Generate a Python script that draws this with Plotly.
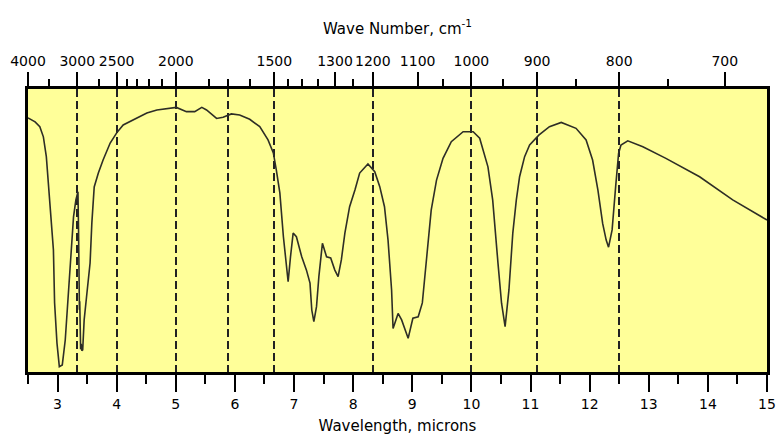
import plotly.graph_objects as go

# ---- data ----
wavelength_um = [2.50, 2.62, 2.70, 2.76, 2.81, 2.845, 2.89, 2.93, 2.95, 2.99, 3.03, 3.08, 3.13, 3.17,
                 3.20, 3.24, 3.27, 3.31, 3.345, 3.355, 3.36, 3.37, 3.375, 3.38, 3.385, 3.39, 3.40,
                 3.41, 3.425, 3.45, 3.49, 3.55, 3.58, 3.62, 3.69, 3.77, 3.89, 4.00, 4.11, 4.28,
                 4.51, 4.68, 5.01, 5.18, 5.32, 5.44, 5.52, 5.69, 5.80, 5.94, 6.08, 6.25, 6.42,
                 6.56, 6.65, 6.70, 6.76, 6.82, 6.86, 6.90, 6.94, 6.985, 7.04, 7.13, 7.21, 7.27,
                 7.30, 7.335, 7.38, 7.42, 7.48, 7.55, 7.62, 7.69, 7.745, 7.80, 7.86, 7.94, 8.03,
                 8.11, 8.25, 8.365, 8.45, 8.53, 8.59, 8.65, 8.675, 8.72, 8.76, 8.82, 8.93, 9.01,
                 9.10, 9.17, 9.24, 9.32, 9.41, 9.52, 9.66, 9.86, 10.03, 10.14, 10.28, 10.36,
                 10.45, 10.51, 10.57, 10.635, 10.70, 10.76, 10.815, 10.90, 10.985, 11.14, 11.32,
                 11.52, 11.77, 11.94, 12.05, 12.14, 12.22, 12.28, 12.32, 12.38, 12.44, 12.49,
                 12.53, 12.645, 12.90, 13.29, 13.86, 14.42, 15.00]
transmittance = [89.8, 88.4, 86.7, 83.1, 76.1, 66.8, 56.2, 43.1, 24.4, 10.2, 1.9, 2.5, 11.3, 24.4,
                 32.5, 49.1, 54.8, 60.8, 63.7, 50.0, 30.0, 22.0, 25.0, 14.0, 18.0, 8.0, 10.0,
                 7.5, 7.8, 18.4, 26.5, 38.5, 52.7, 65.4, 70.3, 74.9, 80.9, 84.5, 87.3, 89.0,
                 91.5, 92.6, 93.5, 92.0, 92.0, 93.5, 92.6, 89.6, 90.0, 91.2, 90.8, 89.3, 86.7,
                 82.0, 77.4, 71.4, 63.3, 47.8, 38.5, 31.9, 40.7, 49.1, 47.8, 40.7, 36.0, 31.4,
                 21.9, 17.8, 23.1, 33.7, 45.5, 40.7, 40.3, 36.0, 33.7, 39.6, 49.1, 58.4, 64.3,
                 70.3, 73.5, 70.8, 65.5, 58.4, 46.6, 29.0, 15.4, 18.4, 20.7, 18.4, 11.9, 19.0,
                 19.5, 24.4, 40.7, 57.2, 67.8, 75.5, 81.4, 84.9, 84.9, 82.6, 72.5, 60.8,
                 38.4, 24.3, 16.0, 29.0, 49.0, 60.8, 69.0, 76.1, 80.2, 83.7, 86.7,
                 88.2, 86.1, 82.0, 74.9, 64.3, 52.5, 46.6, 44.1, 50.2, 65.5, 77.3,
                 80.2, 81.7, 79.6, 75.5, 69.0, 60.8, 53.7]

wavelength_range = [2.5, 15]
top_label_wavenumbers = [4000, 3000, 2500, 2000, 1500, 1300, 1200, 1100, 1000, 900, 800, 700]
top_minor_wavenumbers = [3500, 2700, 2400, 2300, 2200, 2100, 1800, 1700, 1600, 1450, 1400, 1350,
                         1250, 1050, 950, 850, 750]
dashed_wavenumbers = [3000, 2500, 2000, 1700, 1500, 1200, 1000, 900, 800]

FONT = "DejaVu Sans"
INK = "#000000"

fig = go.Figure()
fig.add_trace(go.Scatter(x=wavelength_um, y=transmittance, mode="lines",
                         line=dict(color="#2e2e26", width=1.6),
                         xaxis="x", yaxis="y", showlegend=False, hoverinfo="skip"))
# invisible helper traces so the overlaid axes are drawn
for ax in ("x2", "x3"):
    fig.add_trace(go.Scatter(x=wavelength_um, y=transmittance, mode="lines",
                             line=dict(width=0, color="rgba(0,0,0,0)"),
                             xaxis=ax, yaxis="y", showlegend=False, hoverinfo="skip"))

fig.update_layout(
    width=780, height=436,
    margin=dict(l=28, r=13, t=89, b=64),
    paper_bgcolor="white",
    plot_bgcolor="#FFFF99",
    font=dict(family=FONT, size=14, color=INK),
    xaxis=dict(
        range=wavelength_range, tickmode="linear", tick0=0, dtick=1,
        ticks="outside", ticklen=17, tickwidth=2, tickcolor=INK,
        minor=dict(tickmode="linear", tick0=0, dtick=0.5, ticks="outside",
                   ticklen=9, tickwidth=2, tickcolor=INK),
        showgrid=False, zeroline=False, automargin=False, tickangle=0,
        showline=True, linewidth=3, linecolor=INK, mirror=True,
        tickfont=dict(family=FONT, size=14, color=INK),
        title=dict(text="Wavelength, microns", font=dict(family=FONT, size=15, color=INK),
                   standoff=10),
    ),
    xaxis2=dict(
        range=wavelength_range, overlaying="x", side="top", anchor="y",
        tickmode="array",
        tickvals=[10000 / w for w in top_label_wavenumbers],
        ticktext=[str(w) for w in top_label_wavenumbers],
        ticks="outside", ticklen=16, tickwidth=2, tickcolor=INK,
        minor=dict(tickmode="array", tickvals=[10000 / w for w in top_minor_wavenumbers],
                   ticks="outside", ticklen=9, tickwidth=2, tickcolor=INK),
        showgrid=False, zeroline=False, showline=False, automargin=False, tickangle=0,
        tickfont=dict(family=FONT, size=14, color=INK),
        title=dict(text="Wave Number, cm<sup>-1</sup>", font=dict(family=FONT, size=15, color=INK),
                   standoff=15),
    ),
    xaxis3=dict(
        range=wavelength_range, overlaying="x", anchor="y",
        tickmode="array", tickvals=[10000 / w for w in dashed_wavenumbers],
        showticklabels=False, ticks="", automargin=False,
        showgrid=True, gridcolor="#222222", gridwidth=1.6, griddash="8px,4px",
        zeroline=False, showline=False,
    ),
    yaxis=dict(
        range=[0, 100], showticklabels=False, ticks="", showgrid=False, zeroline=False,
        showline=True, linewidth=3, linecolor=INK, mirror=True, automargin=False,
    ),
)

fig.write_html("out.html", config={"displayModeBar": False},
               post_script="document.body.style.margin='0px';document.body.style.overflow='hidden';")
